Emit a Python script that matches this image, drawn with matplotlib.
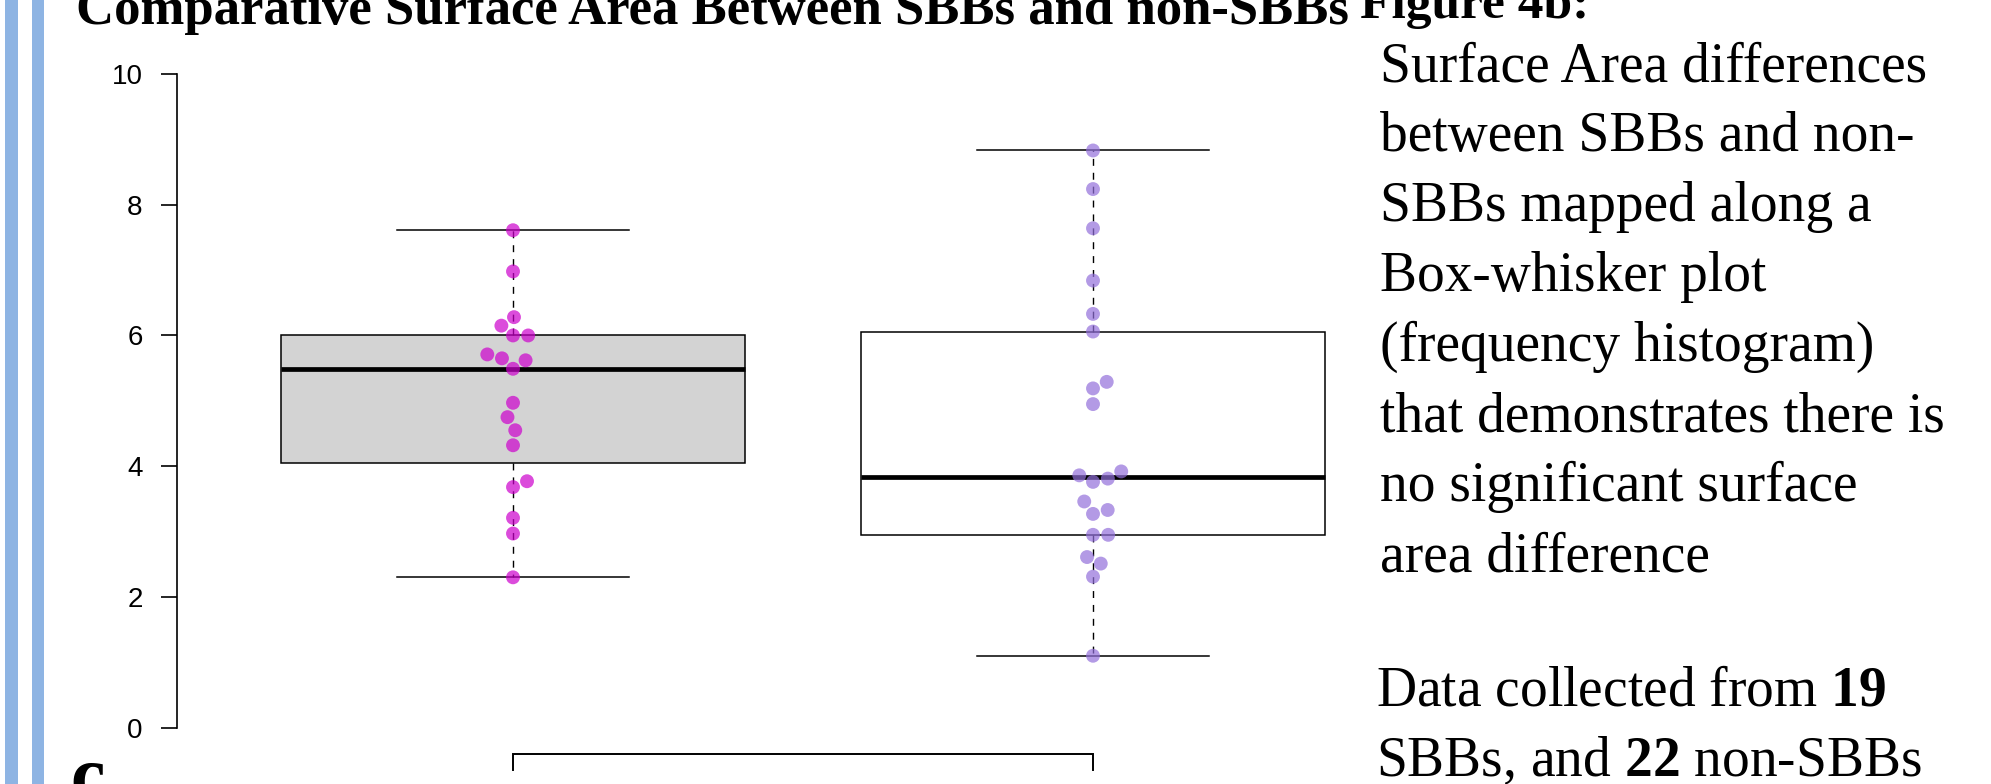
import numpy as np
import matplotlib
matplotlib.use("Agg")
import matplotlib.pyplot as plt
from matplotlib.patches import Rectangle

# ---------------- data ----------------
groups = ["SBBs", "non-SBBs"]
positions = [1, 2]
sbb_values = [7.61, 6.98, 6.28, 6.15, 6.00, 6.00, 5.71, 5.65, 5.62, 5.49,
              4.97, 4.75, 4.55, 4.32, 3.77, 3.68, 3.21, 2.97, 2.30]
non_sbb_values = [8.83, 8.24, 7.64, 6.84, 6.33, 6.06, 5.29, 5.19, 4.95, 3.92,
                  3.86, 3.81, 3.76, 3.46, 3.33, 3.27, 2.95, 2.95, 2.61, 2.51,
                  2.31, 1.10]
yticks = [0, 2, 4, 6, 8, 10]
title = "Comparative Surface Area Between SBBs and non-SBBs"
fig_label = "Figure 4b:"
body_lines = ["Surface Area differences", "between SBBs and non-",
              "SBBs mapped along a", "Box-whisker plot",
              "(frequency histogram)", "that demonstrates there is",
              "no significant surface", "area difference"]
note_lines = [r"Data collected from $\mathbf{19}$",
              r"SBBs, and $\mathbf{22}$ non-SBBs"]

box_faces = ["#D3D3D3", "white"]
point_colors = ["#CD00CD", "#9370DB"]

# ---------------- setup ----------------
plt.rcParams["mathtext.fontset"] = "custom"
plt.rcParams["mathtext.rm"] = "Liberation Serif"
plt.rcParams["mathtext.bf"] = "Liberation Serif:bold"

W, H = 1991, 784
fig = plt.figure(figsize=(W / 100, H / 100), dpi=100)
fig.patch.set_facecolor("white")


def fx(px):
    return px / W


def fy(py):
    return 1 - py / H


# decorative slide bars at left
for x0, x1 in [(5, 18), (32, 44)]:
    fig.patches.append(Rectangle((fx(x0), 0), fx(x1 - x0), 1,
                                 transform=fig.transFigure,
                                 facecolor="#8EB4E3", edgecolor="none"))

ax = fig.add_axes([fx(176.6), fy(753.8), fx(1429.4 - 176.6), (753.8 - 47.85) / H])


def fivenum(v):
    x = np.sort(np.asarray(v, dtype=float))
    n = len(x)
    n4 = np.floor((n + 3) / 2) / 2
    d = np.array([1, n4, (n + 1) / 2, n + 1 - n4, n]) - 1
    return 0.5 * (x[np.floor(d).astype(int)] + x[np.ceil(d).astype(int)])


stats = []
for name, vals in zip(groups, [sbb_values, non_sbb_values]):
    mn, q1, med, q3, mx = fivenum(vals)
    iqr = q3 - q1
    arr = np.asarray(vals)
    lo = arr[arr >= q1 - 1.5 * iqr].min()
    hi = arr[arr <= q3 + 1.5 * iqr].max()
    stats.append(dict(label=name, q1=q1, med=med, q3=q3, whislo=lo, whishi=hi, fliers=[]))

bp = ax.bxp(stats, positions=positions, widths=0.8, capwidths=0.4,
            patch_artist=True, showfliers=False,
            boxprops=dict(edgecolor="black", linewidth=1.1),
            medianprops=dict(color="black", linewidth=3.4, solid_capstyle="butt"),
            whiskerprops=dict(color="black", linewidth=1.0, linestyle=(0, (5, 5))),
            capprops=dict(color="black", linewidth=1.1))
for patch, fc in zip(bp["boxes"], box_faces):
    patch.set_facecolor(fc)

ax.set_xlim(0.42, 2.58)
ax.set_ylim(-0.4, 10.4)
ax.patch.set_alpha(0)
for s in ["top", "right", "bottom"]:
    ax.spines[s].set_visible(False)
ax.spines["left"].set_bounds(0, 10)
ax.spines["left"].set_linewidth(1.2)
ax.set_xticks([])
ax.set_yticks(yticks)
ax.set_yticklabels([str(t) for t in yticks], fontfamily="Liberation Sans", fontsize=20)
ax.tick_params(axis="y", direction="out", length=11.5, width=1.2, pad=13)


def swarm_offsets(ypix, diameter):
    order = np.argsort(ypix, kind="stable")
    placed = []
    offs = np.zeros(len(ypix))
    for i in order:
        y = ypix[i]
        cands = [0.0]
        for px, py in placed:
            dy = abs(y - py)
            if dy < diameter:
                dx = np.sqrt(diameter ** 2 - dy ** 2)
                cands += [px + dx, px - dx]
        cands = sorted(cands, key=lambda c: (abs(c), -c))
        chosen = cands[-1]
        for c in cands:
            if all((c - px) ** 2 + (y - py) ** 2 >= diameter ** 2 - 1e-6 for px, py in placed):
                chosen = c
                break
        offs[i] = chosen
        placed.append((chosen, y))
    return offs


for pos, vals, col in zip(positions, [sbb_values, non_sbb_values], point_colors):
    pts = np.column_stack([np.full(len(vals), pos, dtype=float), vals])
    disp = ax.transData.transform(pts)
    offs = swarm_offsets(disp[:, 1], 15.2)
    disp[:, 0] += offs
    data = ax.transData.inverted().transform(disp)
    ax.scatter(data[:, 0], data[:, 1], s=100, color=col, alpha=0.7,
               edgecolors="none", zorder=5, clip_on=False)

# comparison bracket below the boxes
yb = ax.get_ylim()[0]
ax.plot([positions[0], positions[0], positions[1], positions[1]],
        [yb - 0.25, yb, yb, yb - 0.25], color="black", linewidth=1.4,
        clip_on=False, solid_joinstyle="miter")

# ---------------- text ----------------
fig.text(fx(76), fy(24), title, fontfamily="Liberation Serif", fontweight="bold",
         fontsize=38, va="baseline", ha="left")
fig.text(fx(1360), fy(18), fig_label, fontfamily="Liberation Serif", fontweight="bold",
         fontsize=37, va="baseline", ha="left")
for i, line in enumerate(body_lines):
    fig.text(fx(1380), fy(81 + 70 * i), line, fontfamily="Liberation Serif",
             fontsize=40, va="baseline", ha="left")
for i, line in enumerate(note_lines):
    fig.text(fx(1376), fy(706 + 70 * i), line, fontfamily="Liberation Serif",
             fontsize=40, va="baseline", ha="left")
fig.text(fx(70), fy(800), "c", fontfamily="Liberation Serif", fontweight="bold",
         fontsize=56, va="baseline", ha="left")

fig.savefig("out.png", dpi=100)
